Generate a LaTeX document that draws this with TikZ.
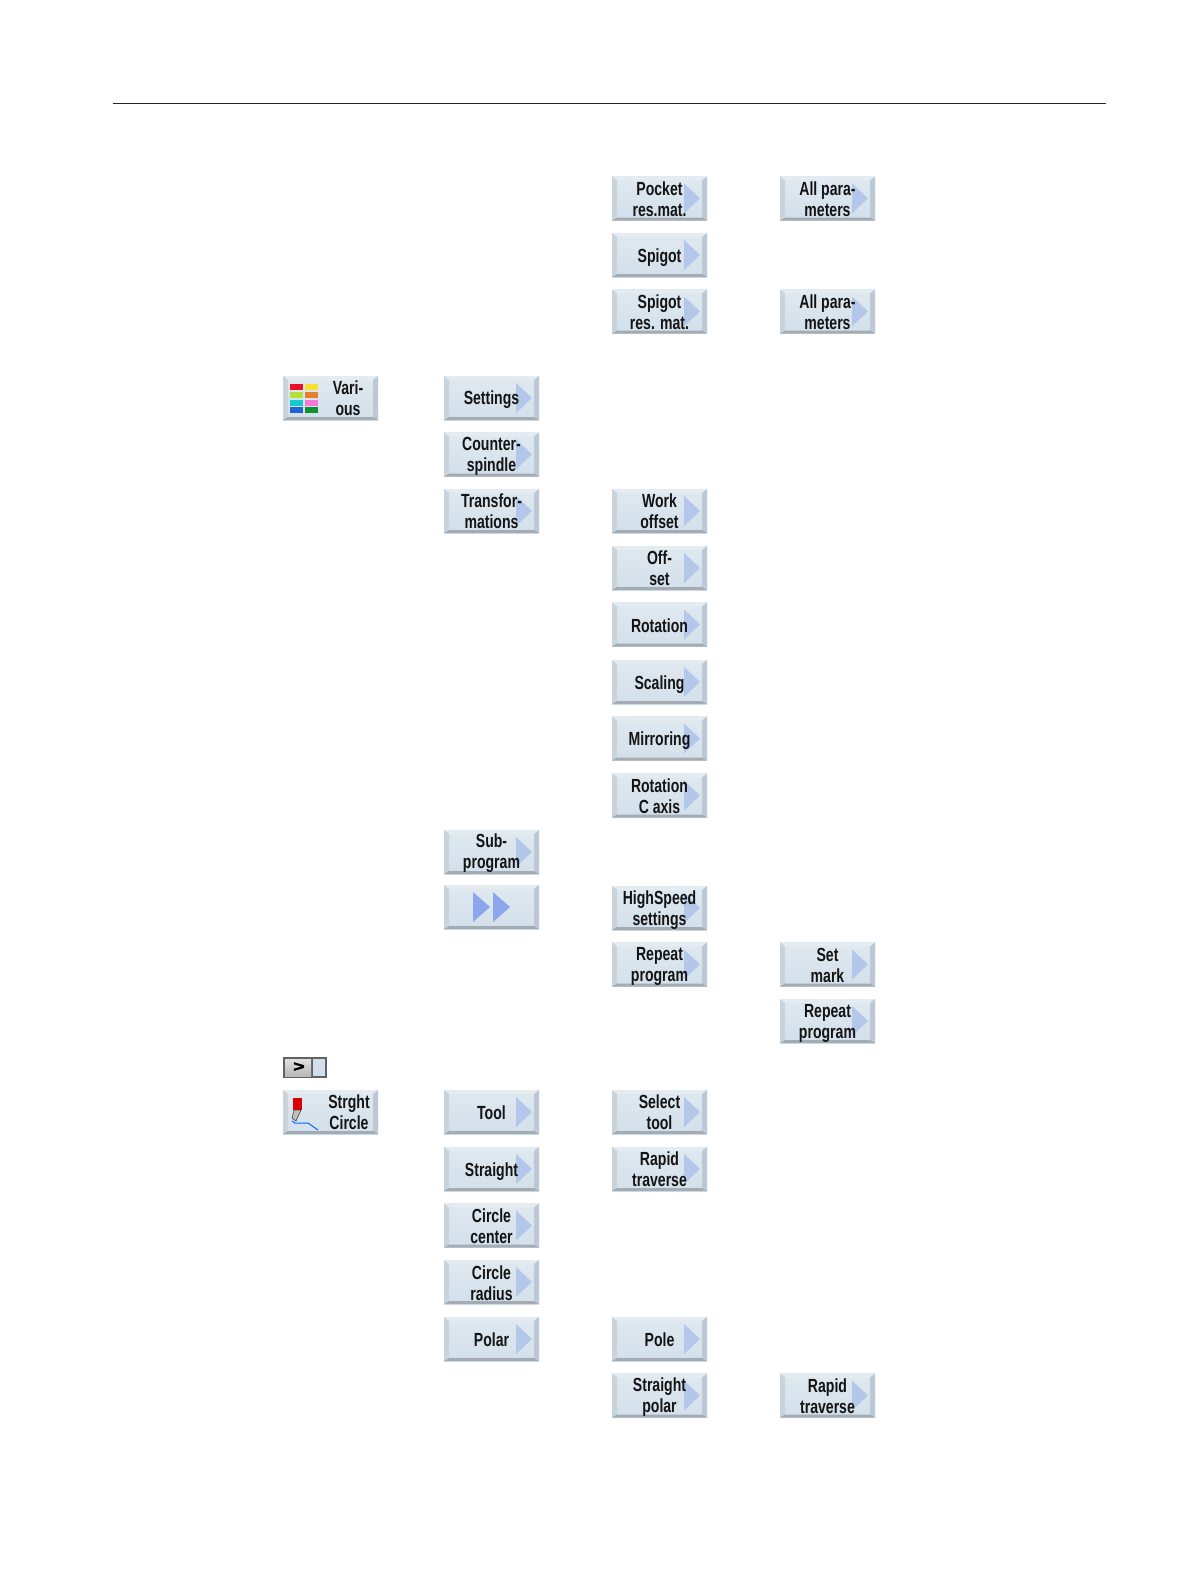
\documentclass[tikz,border=0pt]{standalone}
\usepackage{fontspec}
\setmainfont{Liberation Sans}[FakeStretch=0.74]
\newfontfamily\keyfont{Liberation Sans Bold}[FakeBold=2.5]
\definecolor{btfacet}{HTML}{E0E9F0}
\definecolor{btfaceb}{HTML}{D2DFEA}
\definecolor{bttop}{HTML}{E4ECF1}
\definecolor{btleft}{HTML}{C8D3DC}
\definecolor{btright}{HTML}{BCC8D3}
\definecolor{btbot}{HTML}{A3ACB4}
\definecolor{btarrow}{HTML}{B3C7EA}
\definecolor{btdark}{HTML}{8CA6EE}
\definecolor{ica}{HTML}{E8102A}
\definecolor{icb}{HTML}{B4E03C}
\definecolor{icc}{HTML}{18C8D0}
\definecolor{icd}{HTML}{1E64D8}
\definecolor{ice}{HTML}{F8E030}
\definecolor{icf}{HTML}{E08030}
\definecolor{icg}{HTML}{F878D8}
\definecolor{ich}{HTML}{109030}
\tikzset{
  btntext/.style={font=\bfseries\fontsize{19}{21}\selectfont,align=center,text=black!92,inner sep=0pt},
}
\newcommand{\bevel}[2]{%
  \shade[top color=btfacet,bottom color=btfaceb] (#1,#2-22) rectangle ++(95,44);
  \fill[bttop] (#1,#2-22) -- ++(95,0) -- ++(-5,4) -- ++(-85,0) -- cycle;
  \fill[btleft] (#1,#2-22) -- ++(5,4) -- ++(0,37) -- ++(-5,3) -- cycle;
  \fill[btright] (#1+95,#2-22) -- ++(-5,4) -- ++(0,37) -- ++(5,3) -- cycle;
  \fill[btbot] (#1,#2+22) -- ++(95,0) -- ++(-5,-3) -- ++(-85,0) -- cycle;
}
\newcommand{\softkey}[5][0.5]{%
  \bevel{#3}{#4}
  \fill[btarrow] (#3+72,#4-15) -- ++(16,15) -- ++(-16,15) -- cycle;
  \node[btntext] (#2) at (#3+47.5,#4+#1) {#5};
}
\begin{document}
\begin{tikzpicture}[x=1pt,y=-1pt]
\useasboundingbox (0,0) rectangle (1191,1587);
\fill[white] (0,0) rectangle (1191,1587);
\draw[line width=1pt,black!85] (113,103) -- (1106,103);
\softkey{a1}{612}{198.5}{Pocket\\res.mat.}
\softkey{a2}{780}{198.5}{All para-\\meters}
\softkey[2.5]{b1}{612}{255}{Spigot}
\softkey{c1}{612}{311.5}{Spigot\\res. mat.}
\softkey{c2}{780}{311.5}{All para-\\meters}
\bevel{283}{398}
\node[btntext] (various) at (348,398.5) {Vari-\\ous};
\foreach \cx/\cy/\cc in {290/384/ica,290/392/icb,290/399.5/icc,290/406.5/icd,
                         305/384/ice,305/392/icf,305/399.5/icg,305/406.5/ich}
  {\fill[color=\cc] (\cx,\cy) rectangle ++(13,6);}
\softkey[2]{d1}{444}{398}{Settings}
\softkey[1.5]{e1}{444}{454.5}{Counter-\\spindle}
\softkey{f1}{444}{511}{Transfor-\\mations}
\softkey{f2}{612}{511}{Work\\offset}
\softkey{g2}{612}{568}{Off-\\set}
\softkey[1.5]{h2}{612}{624.5}{Rotation}
\softkey[2.5]{i2}{612}{682}{Scaling}
\softkey[2.5]{j2}{612}{738.5}{Mirroring}
\softkey{k2}{612}{795.5}{Rotation\\C axis}
\softkey[1.5]{l1}{444}{852}{Sub-\\program}
\bevel{444}{907}
\fill[btdark] (473,892) -- ++(17,15) -- ++(-17,15) -- cycle;
\fill[btdark] (493,892) -- ++(17,15) -- ++(-17,15) -- cycle;
\softkey[2]{m2}{612}{908}{HighSpeed\\settings}
\softkey[1.5]{n2}{612}{964.5}{Repeat\\program}
\softkey{n3}{780}{964.5}{Set\\mark}
\softkey[2.5]{o3}{780}{1021}{Repeat\\program}
\fill[black!62] (283,1057) rectangle (327,1078);
\shade[top color=black!12,bottom color=black!28] (285,1059) rectangle (311,1076);
\fill[btfaceb] (313,1059) rectangle (325,1076);
\node[font=\keyfont\fontsize{15}{15}\selectfont,inner sep=0pt,xscale=1.3] (keysym) at (299,1067) {>};
\bevel{283}{1112}
\node[btntext] (strcirc) at (349,1112.5) {Strght\\Circle};
\fill[red!85!black] (293,1098) rectangle (302,1110);
\fill[black!25] (294,1110) -- (301,1110) -- (296,1121) -- (292,1118) -- cycle;
\draw[black!75,line width=.6pt] (294,1110) -- (301,1110) -- (296,1121) -- (292,1118) -- cycle;
\draw[blue!60!cyan,line width=1pt] (292,1121) -- (295,1123) -- (308,1123) -- (318,1130);
\softkey{p1}{444}{1112}{Tool}
\softkey{p2}{612}{1112}{Select\\tool}
\softkey[2.5]{q1}{444}{1169}{Straight}
\softkey{q2}{612}{1169}{Rapid\\traverse}
\softkey{r1}{444}{1225.5}{Circle\\center}
\softkey[1.5]{s1}{444}{1282}{Circle\\radius}
\softkey{t1}{444}{1339}{Polar}
\softkey{t2}{612}{1339}{Pole}
\softkey[1.5]{u2}{612}{1395.5}{Straight\\polar}
\softkey{u3}{780}{1395.5}{Rapid\\traverse}
\end{tikzpicture}
\end{document}
